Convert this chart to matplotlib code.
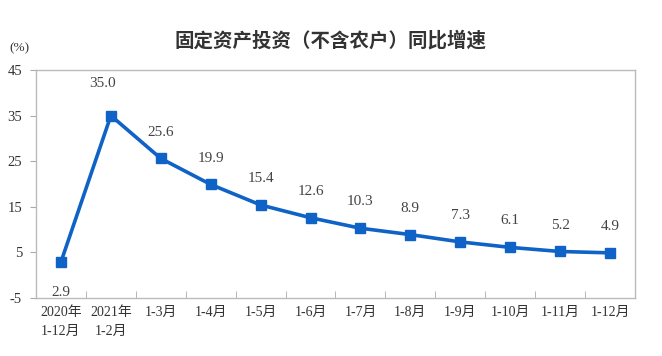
import numpy as np
import matplotlib.pyplot as plt

plt.rcParams['font.family'] = ['Liberation Serif', 'Noto Sans CJK SC']
plt.rcParams['axes.unicode_minus'] = False

months = ['2020年\n1-12月', '2021年\n1-2月', '1-3月', '1-4月', '1-5月', '1-6月',
          '1-7月', '1-8月', '1-9月', '1-10月', '1-11月', '1-12月']
growth = [2.9, 35.0, 25.6, 19.9, 15.4, 12.6, 10.3, 8.9, 7.3, 6.1, 5.2, 4.9]

fig = plt.figure(figsize=(6.62, 3.56), dpi=100)
ax = fig.add_axes([36/662, 58/356, 599/662, 228/356])

x = np.arange(len(growth))
ax.plot(x, growth, color='#0F62C6', lw=2.6, marker='s', ms=6.5)

for i, v in enumerate(growth):
    if i == 0:
        off = (0, -22)
    elif i == 1:
        off = (-6, 23)
    else:
        off = (0, 19)
    ax.annotate('%.1f' % v, (i, v), xytext=off, textcoords='offset points',
                ha='center', va='center', fontsize=11, color='#444444')

ax.set_xlim(-0.5, len(growth) - 0.5)
ax.set_ylim(-5, 45)
ax.set_yticks([-5, 5, 15, 25, 35, 45])
ax.set_xticks(x)
ax.set_xticklabels(months, fontsize=10, color='#333333', linespacing=1.55)
ax.set_xticks(np.arange(0.5, len(growth) - 0.5), minor=True)
ax.tick_params(axis='x', which='major', length=0, pad=6)
ax.tick_params(axis='x', which='minor', direction='in', length=5, color='#aaaaaa')
ax.tick_params(axis='y', labelsize=10.5, colors='#333333', length=4, pad=6)
ax.tick_params(axis='y', color='#aaaaaa')
for s in ax.spines.values():
    s.set_color('#bbbbbb')
    s.set_linewidth(1)

ax.text(-0.027, 1.07, '(%)', transform=ax.transAxes, fontsize=9.5, color='#333333',
        ha='center', va='bottom')
fig.text(0.5, 0.885, '固定资产投资（不含农户）同比增速', ha='center', va='center',
         fontsize=14, weight='bold', color='#333333',
         family=['Noto Sans CJK SC', 'DejaVu Sans'])

fig.savefig('out.png', dpi=100)
